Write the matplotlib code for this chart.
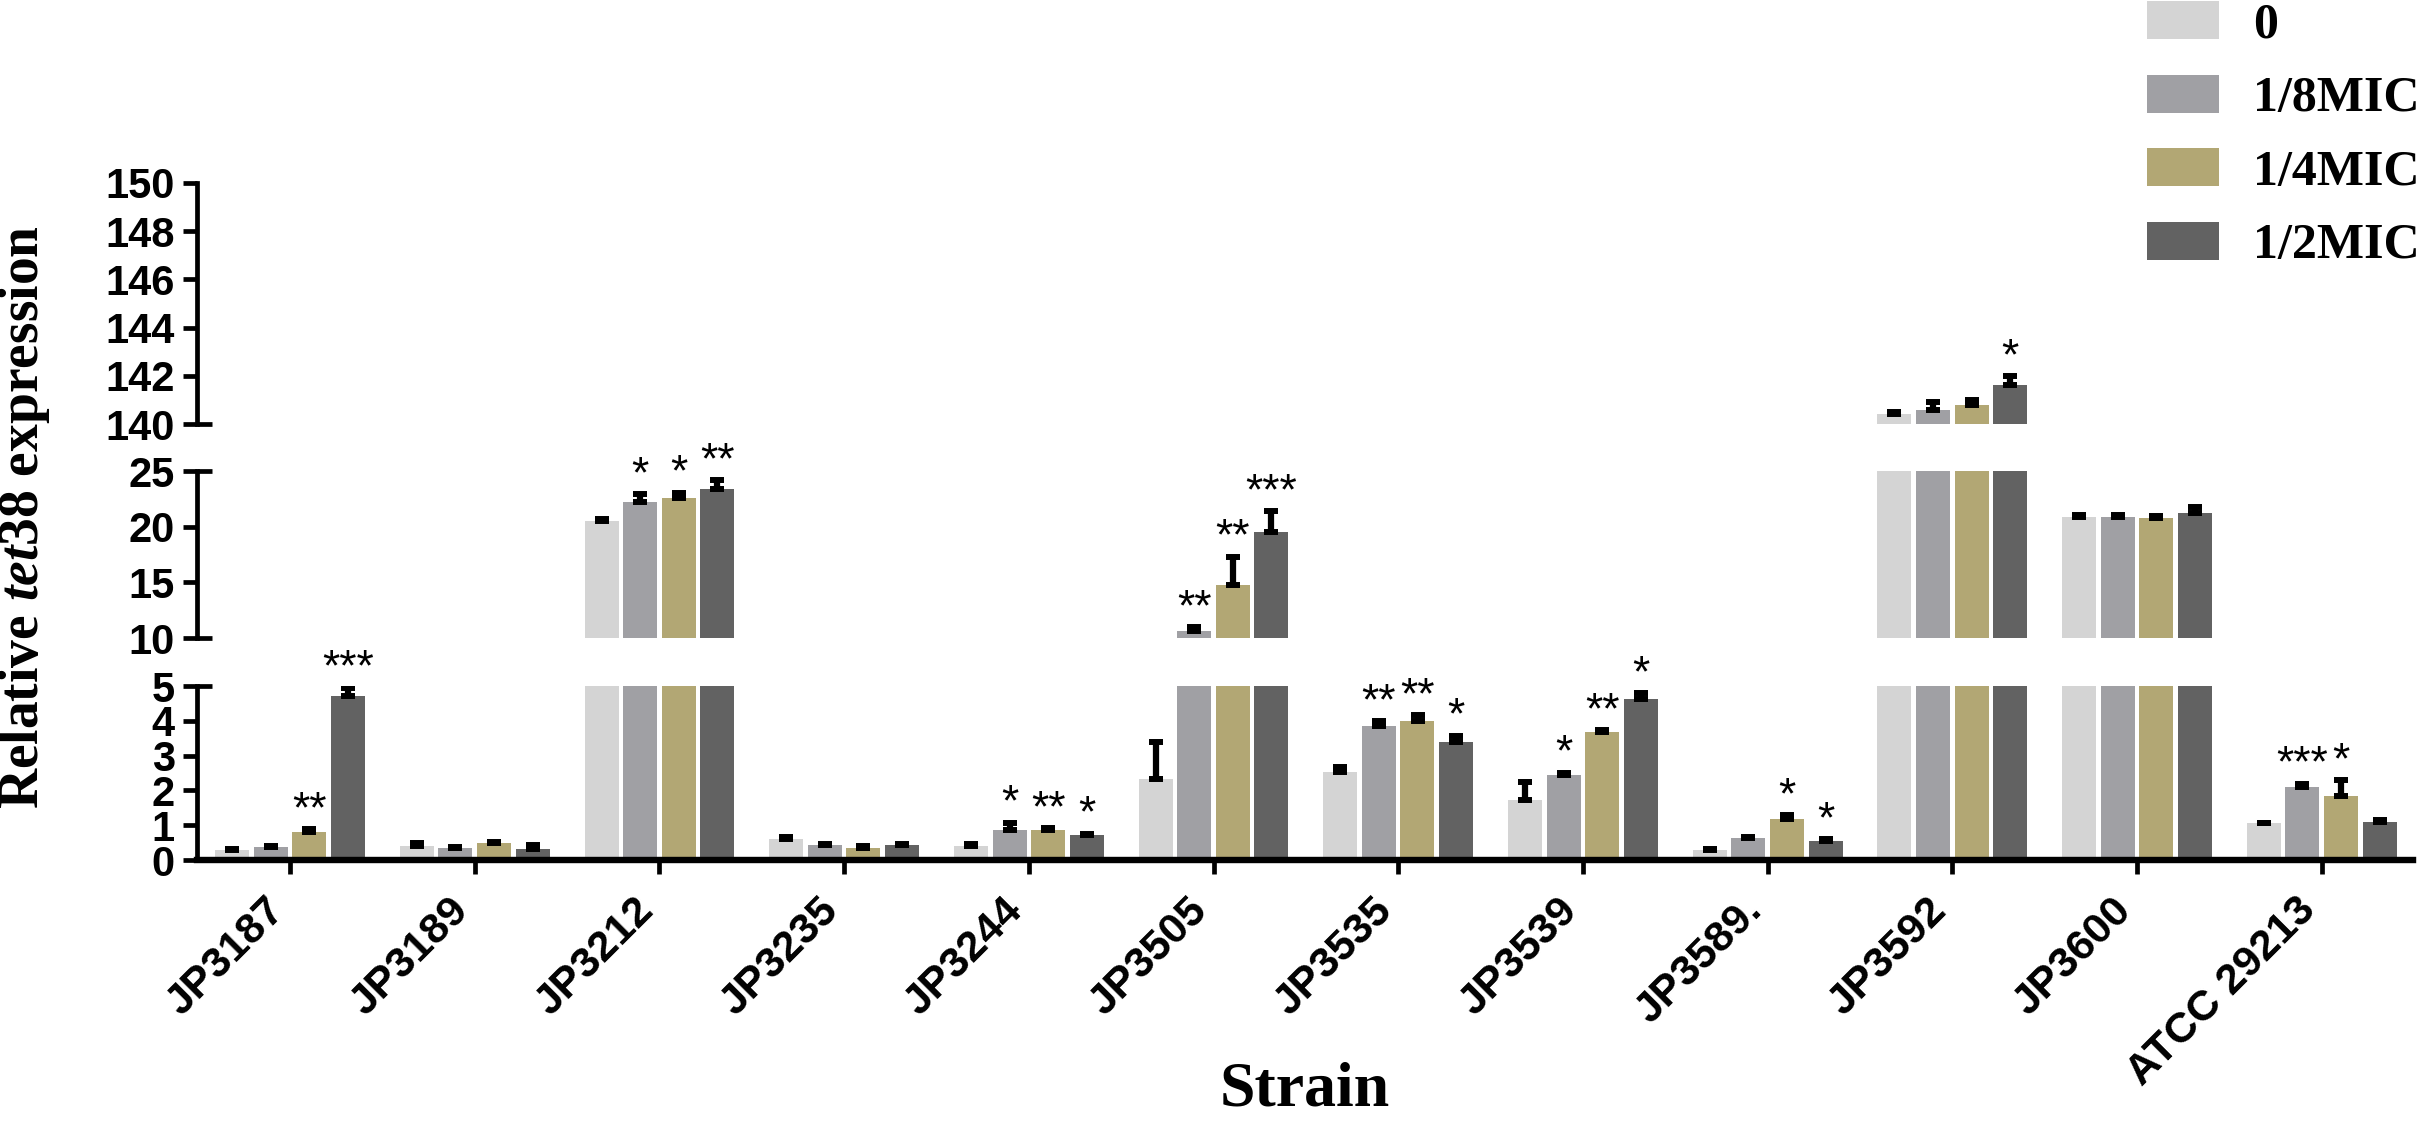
import matplotlib
matplotlib.use("Agg")
import matplotlib.pyplot as plt
import numpy as np
from matplotlib.patches import Patch
from matplotlib.transforms import ScaledTranslation

plt.rcParams['mathtext.fontset'] = 'custom'
plt.rcParams['mathtext.it'] = 'Liberation Serif:italic:bold'
plt.rcParams['mathtext.rm'] = 'Liberation Serif:bold'

strains = ['JP3187', 'JP3189', 'JP3212', 'JP3235', 'JP3244', 'JP3505', 'JP3535',
           'JP3539', 'JP3589.', 'JP3592', 'JP3600', 'ATCC 29213']
conc_labels = ['0', '1/8MIC', '1/4MIC', '1/2MIC']

vals_0 = [0.29, 0.41, 20.5, 0.60, 0.41, 2.33, 2.54, 1.71, 0.29, 140.4, 20.9, 1.05]
vals_18 = [0.36, 0.35, 22.2, 0.43, 0.86, 10.6, 3.86, 2.43, 0.62, 140.6, 20.9, 2.10]
vals_14 = [0.81, 0.48, 22.6, 0.35, 0.86, 14.8, 4.00, 3.69, 1.17, 140.8, 20.8, 1.84]
vals_12 = [4.70, 0.33, 23.4, 0.43, 0.71, 19.5, 3.40, 4.64, 0.54, 141.6, 21.2, 1.10]

err_0 = [0.04, 0.07, 0.15, 0.07, 0.04, 1.07, 0.12, 0.53, 0.03, 0.10, 0.15, 0.02]
err_18 = [0.05, 0.03, 0.70, 0.04, 0.21, 0.40, 0.12, 0.08, 0.05, 0.30, 0.15, 0.09]
err_14 = [0.08, 0.05, 0.45, 0.04, 0.05, 2.50, 0.16, 0.05, 0.12, 0.20, 0.15, 0.45]
err_12 = [0.25, 0.10, 0.75, 0.04, 0.05, 1.90, 0.17, 0.15, 0.05, 0.40, 0.60, 0.05]

stars_0 = [''] * 12
stars_18 = ['', '', '*', '', '*', '**', '**', '*', '', '', '', '***']
stars_14 = ['**', '', '*', '', '**', '**', '**', '**', '*', '', '', '*']
stars_12 = ['***', '', '**', '', '*', '***', '*', '*', '*', '*', '', '']

series_vals = [vals_0, vals_18, vals_14, vals_12]
series_err = [err_0, err_18, err_14, err_12]
series_stars = [stars_0, stars_18, stars_14, stars_12]
colors = ['#d4d4d4', '#a0a0a4', '#b2a774', '#626262']

W, H = 2422, 1123
fig = plt.figure(figsize=(W / 100, H / 100), dpi=100)

L = 197 / W
R = 2413 / W
def frac_box(top_px, bot_px):
    return [L, 1 - bot_px / H, R - L, (bot_px - top_px) / H]

ax_top = fig.add_axes(frac_box(183, 424))
ax_mid = fig.add_axes(frac_box(471, 638))
ax_bot = fig.add_axes(frac_box(686, 860))
axes = [ax_top, ax_mid, ax_bot]
ranges = [(140, 150), (10, 25), (0, 5)]
yticks = [np.arange(140, 151, 2), np.arange(10, 26, 5), np.arange(0, 6, 1)]

pitch = 184.7
xlim = ((197 - 290) / pitch, (2413 - 290) / pitch)
x = np.arange(len(strains))
step = 38.6 / pitch
bw = 34 / pitch

tick_font = dict(family='Liberation Sans', weight='bold', size=30)
LW = 3.4

for ax, (lo, hi), yt in zip(axes, ranges, yticks):
    for k in range(4):
        xs = x + (k - 1.5) * step
        ax.bar(xs, series_vals[k], width=bw, color=colors[k], edgecolor='none', zorder=2)
        ax.errorbar(xs, series_vals[k], yerr=[np.zeros(len(x)), series_err[k]],
                    fmt='none', ecolor='black', elinewidth=4.5, capsize=4.7,
                    capthick=4.3, zorder=3)
    ax.set_ylim(lo, hi)
    ax.set_xlim(*xlim)
    ax.set_yticks(yt)
    ax.set_yticklabels([str(v) for v in yt], fontdict=tick_font)
    ax.tick_params(axis='y', direction='out', length=10, width=LW, pad=6)
    for s in ['top', 'right']:
        ax.spines[s].set_visible(False)
    ax.spines['left'].set_linewidth(LW)
    ax.patch.set_alpha(0)

for ax in [ax_top, ax_mid]:
    ax.spines['bottom'].set_visible(False)
    ax.tick_params(axis='x', bottom=False, labelbottom=False)

ax_bot.spines['bottom'].set_linewidth(LW + 1.2)
ax_bot.set_xticks(x)
ax_bot.set_xticklabels(strains, fontdict=dict(family='Liberation Sans', weight='bold', size=31),
                       rotation=45, ha='right', va='center', rotation_mode='anchor')
ax_bot.tick_params(axis='x', direction='out', length=10, width=LW, pad=22)
for lab in ax_bot.get_xticklabels():
    lab.set_transform(lab.get_transform() + ScaledTranslation(-0.12, 0, fig.dpi_scale_trans))

# break marks
brk = 15 / (2413 - 197)
for ax, yv in [(ax_top, 140), (ax_mid, 25), (ax_mid, 10), (ax_bot, 5)]:
    ax.plot([0, brk], [yv, yv], transform=ax.get_yaxis_transform(), color='black',
            lw=LW, clip_on=False, solid_capstyle='butt', zorder=5)

# significance stars
for k in range(4):
    for i in range(len(x)):
        s = series_stars[k][i]
        if not s:
            continue
        top = series_vals[k][i] + series_err[k][i]
        if top >= 140:
            ax = ax_top
        elif top >= 10:
            ax = ax_mid
        else:
            ax = ax_bot
        ax.annotate(s, xy=(x[i] + (k - 1.5) * step, top), xytext=(0, 5),
                    textcoords='offset points', ha='center', va='baseline',
                    fontsize=32, family='Liberation Sans', annotation_clip=False,
                    zorder=6)

# axis labels
fig.text(24 / W, 1 - 517 / H, r'Relative $\mathit{tet38}$ expression', rotation=90,
         ha='center', va='center', fontsize=40, family='Liberation Serif', weight='bold')
fig.text(1305 / W, 3 / H, 'Strain', ha='center', va='bottom', fontsize=46,
         family='Liberation Serif', weight='bold')

handles = [Patch(facecolor=c, edgecolor='none') for c in colors]
fig.legend(handles, conc_labels, loc='upper left', bbox_to_anchor=(2147 / W, 1 - 1 / H),
           frameon=False, prop=dict(family='Liberation Serif', weight='bold', size=36),
           handlelength=1.44, handleheight=0.8, handletextpad=0.68, labelspacing=0.52,
           borderaxespad=0, borderpad=0)

fig.savefig('out.png', dpi=100)
